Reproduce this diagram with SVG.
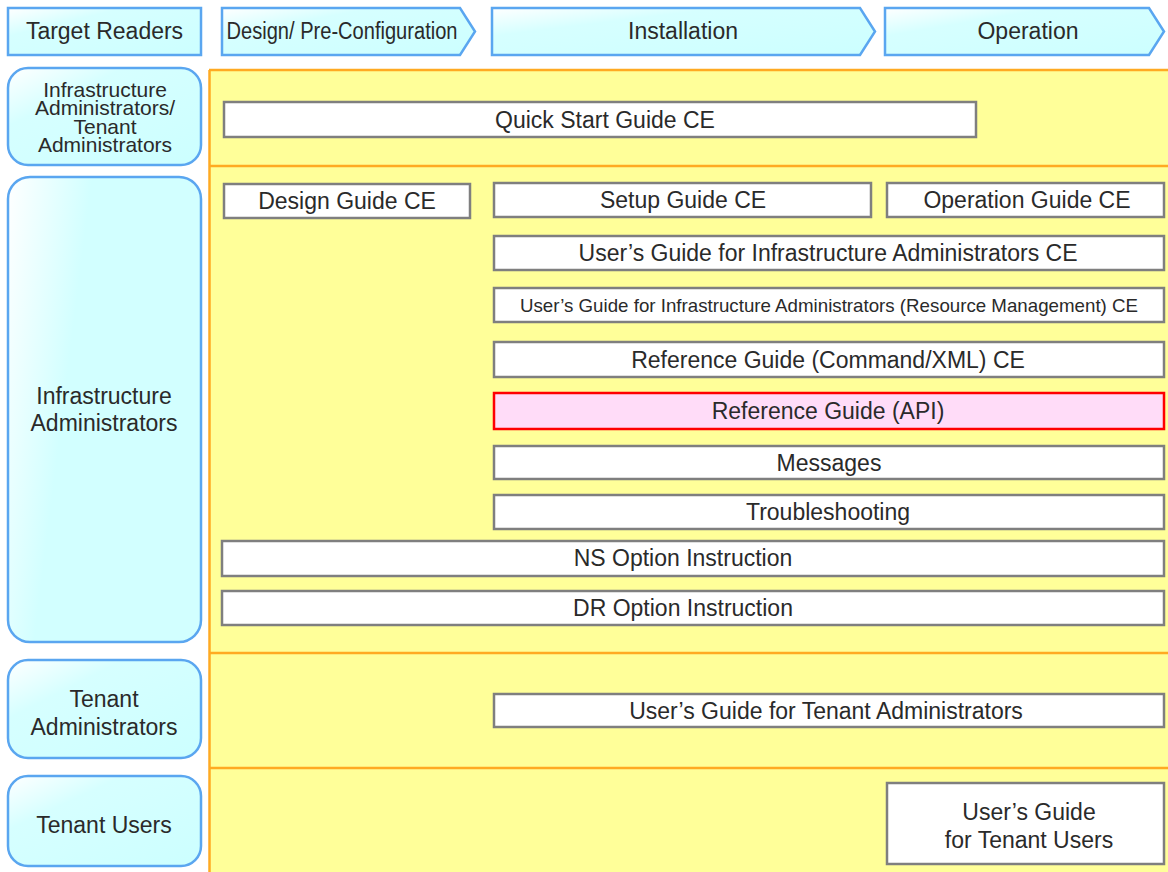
<svg xmlns="http://www.w3.org/2000/svg" width="1168" height="872" viewBox="0 0 1168 872">
<defs>
<linearGradient id="cy" x1="0" y1="0" x2="1" y2="1">
<stop offset="0" stop-color="#ffffff"/>
<stop offset="0.3" stop-color="#d6ffff"/>
<stop offset="1" stop-color="#ccffff"/>
</linearGradient>
<linearGradient id="cyt" x1="0" y1="0" x2="0.4" y2="0.12">
<stop offset="0" stop-color="#ffffff"/>
<stop offset="1" stop-color="#d2ffff"/>
</linearGradient>
<linearGradient id="cyh" x1="0" y1="0" x2="1" y2="1">
<stop offset="0" stop-color="#ffffff"/>
<stop offset="0.3" stop-color="#d6ffff"/>
<stop offset="1" stop-color="#ccffff"/>
</linearGradient>
</defs>
<style>
text{font-family:"Liberation Sans",Arial,sans-serif;font-size:23px;fill:#2a2a2a;text-anchor:middle}
.hd{fill:url(#cyh);stroke:#5aa6f0;stroke-width:2.5}
.rd{fill:url(#cy);stroke:#5aa6f0;stroke-width:2.5}
.doc{fill:#ffffff;stroke:#7f7f7f;stroke-width:2.5}
.hl{fill:#ffdcf8;stroke:#ff0000;stroke-width:2.5}
.sep{stroke:#ffaa22;stroke-width:2.5}
.tight{font-size:21px}
</style>
<rect x="209" y="70" width="960" height="803" fill="#ffff99"/>
<g id="separators">
<line class="sep" x1="209" y1="70" x2="1168" y2="70"/>
<line class="sep" x1="209" y1="166" x2="1168" y2="166"/>
<line class="sep" x1="209" y1="653" x2="1168" y2="653"/>
<line class="sep" x1="209" y1="768" x2="1168" y2="768"/>
<line class="sep" x1="209.5" y1="70" x2="209.5" y2="872"/>
</g>
<g id="hdr-target"><rect class="hd" x="8" y="8" width="193" height="47"/><text x="104.5" y="39">Target Readers</text></g>
<g id="hdr-design"><polygon class="hd" points="222,8 460,8 475,31.5 460,55 222,55"/><text x="342" y="39" textLength="231" lengthAdjust="spacingAndGlyphs">Design/ Pre-Configuration</text></g>
<g id="hdr-install"><polygon class="hd" points="492,8 860,8 875,31.5 860,55 492,55"/><text x="683" y="39">Installation</text></g>
<g id="hdr-operation"><polygon class="hd" points="885,8 1149,8 1164,31.5 1149,55 885,55"/><text x="1028" y="39">Operation</text></g>

<g id="reader-infra-tenant"><rect class="rd" x="8" y="68" width="193" height="97" rx="20"/>
<text class="tight" x="105" y="97">Infrastructure</text><text class="tight" x="105" y="115">Administrators/</text><text class="tight" x="105" y="134">Tenant</text><text class="tight" x="105" y="152">Administrators</text></g>
<g id="reader-infra"><rect x="8" y="177" width="193" height="465" rx="22" fill="url(#cyt)" stroke="#5aa6f0" stroke-width="2.5"/>
<text x="104" y="404">Infrastructure</text><text x="104" y="431">Administrators</text></g>
<g id="reader-tenant-admin"><rect class="rd" x="8" y="660" width="193" height="98" rx="20"/>
<text x="104" y="707">Tenant</text><text x="104" y="735">Administrators</text></g>
<g id="reader-tenant-users"><rect class="rd" x="8" y="776" width="193" height="90" rx="20"/>
<text x="104" y="833">Tenant Users</text></g>

<g id="doc-quickstart"><rect class="doc" x="224" y="102" width="752" height="35"/><text x="605" y="128">Quick Start Guide CE</text></g>
<g id="doc-design"><rect class="doc" x="224" y="184" width="246" height="34"/><text x="347" y="209">Design Guide CE</text></g>
<g id="doc-setup"><rect class="doc" x="494" y="183" width="377" height="34"/><text x="683" y="208">Setup Guide CE</text></g>
<g id="doc-operation"><rect class="doc" x="887" y="183" width="277" height="34"/><text x="1027" y="208">Operation Guide CE</text></g>
<g id="doc-user-infra"><rect class="doc" x="494" y="236" width="670" height="34"/><text x="828" y="261">User’s Guide for Infrastructure Administrators CE</text></g>
<g id="doc-user-infra-rm"><rect class="doc" x="494" y="288" width="670" height="34"/><text x="829" y="312" textLength="618" lengthAdjust="spacingAndGlyphs" style="font-size:19px">User’s Guide for Infrastructure Administrators (Resource Management) CE</text></g>
<g id="doc-ref-cmd"><rect class="doc" x="494" y="342" width="670" height="35"/><text x="828" y="368">Reference Guide (Command/XML) CE</text></g>
<g id="doc-ref-api"><rect class="hl" x="494" y="393" width="670" height="36"/><text x="828" y="419">Reference Guide (API)</text></g>
<g id="doc-messages"><rect class="doc" x="494" y="446" width="670" height="33"/><text x="829" y="471">Messages</text></g>
<g id="doc-troubleshooting"><rect class="doc" x="494" y="495" width="670" height="34"/><text x="828" y="520">Troubleshooting</text></g>
<g id="doc-ns"><rect class="doc" x="222" y="541" width="942" height="35"/><text x="683" y="566">NS Option Instruction</text></g>
<g id="doc-dr"><rect class="doc" x="222" y="591" width="942" height="34"/><text x="683" y="616">DR Option Instruction</text></g>
<g id="doc-user-tenant-admin"><rect class="doc" x="494" y="694" width="670" height="33"/><text x="826" y="719">User’s Guide for Tenant Administrators</text></g>
<g id="doc-user-tenant-users"><rect class="doc" x="887" y="783" width="277" height="81"/><text x="1029" y="820">User’s Guide</text><text x="1029" y="848">for Tenant Users</text></g>
</svg>
